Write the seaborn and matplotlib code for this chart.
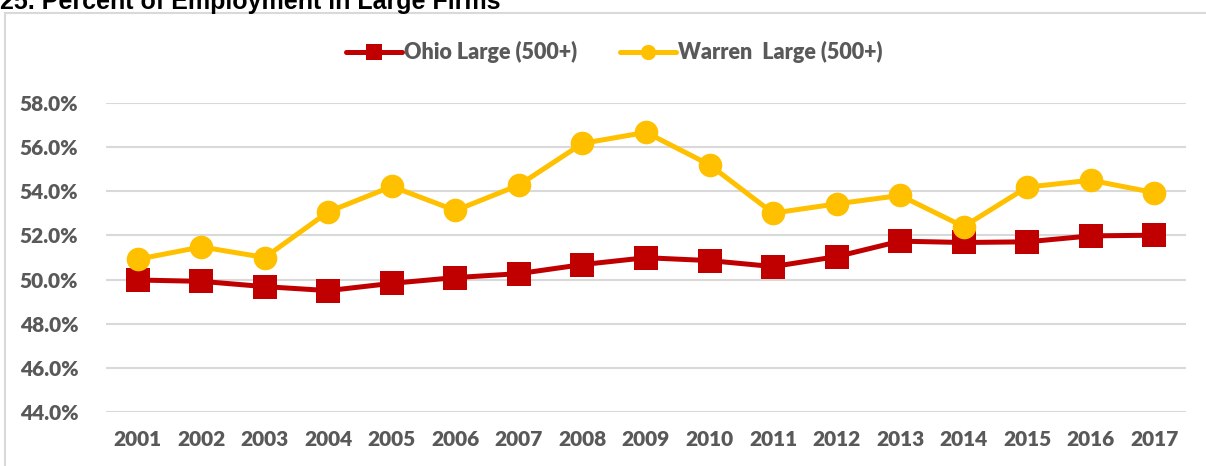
import pandas as pd
import seaborn as sns
import matplotlib.pyplot as plt
from matplotlib.patches import Rectangle
from matplotlib.ticker import FuncFormatter

years = [str(y) for y in range(2001, 2018)]
ohio = [49.98, 49.92, 49.68, 49.50, 49.83, 50.09, 50.27, 50.68, 50.99,
        50.86, 50.59, 51.04, 51.74, 51.68, 51.71, 51.98, 52.01]
warren = [50.92, 51.48, 51.00, 53.07, 54.22, 53.13, 54.28, 56.17, 56.67,
          55.20, 53.01, 53.43, 53.81, 52.40, 54.19, 54.50, 53.94]

df = pd.DataFrame({"Year": years * 2,
                   "Share": ohio + warren,
                   "Series": ["Ohio Large (500+)"] * len(years) + ["Warren  Large (500+)"] * len(years)})

sns.set_style("white")
plt.rcParams['font.family'] = ['Lato', 'DejaVu Sans']
plt.rcParams['font.weight'] = 'heavy'

grey = "#595959"
fig = plt.figure(figsize=(12.06, 4.66), dpi=100)
ax = fig.add_axes([106 / 1206, 1 - 412 / 466, 1080 / 1206, 309 / 466])

sns.lineplot(data=df, x="Year", y="Share", hue="Series", style="Series",
             palette=["#C00000", "#FFC000"], markers=["s", "o"], dashes=False,
             markersize=17, linewidth=3.6, markeredgewidth=0, ax=ax, legend=False)

ax.set_ylim(44, 58)
ax.set_xlim(-0.5, 16.5)
ax.set_yticks(range(44, 59, 2))
ax.yaxis.set_major_formatter(FuncFormatter(lambda v, p: f"{v:.1f}%"))
ax.grid(axis="y", color="#D9D9D9", linewidth=1.5)
ax.set_axisbelow(True)
for s in ax.spines.values():
    s.set_visible(False)
ax.tick_params(axis="both", length=0, labelsize=15, colors=grey, pad=13)
ax.tick_params(axis="y", pad=20)
ax.set_xlabel("")
ax.set_ylabel("")
for ln in ax.lines:
    ln.set_clip_on(False)

handles = [plt.Line2D([], [], color="#C00000", marker="s", markersize=11.5, linewidth=3.6, markeredgewidth=0),
           plt.Line2D([], [], color="#FFC000", marker="o", markersize=11, linewidth=3.6, markeredgewidth=0)]
fig.legend(handles, ["Ohio Large (500+)", "Warren  Large (500+)"], loc="center",
           bbox_to_anchor=(614 / 1206, 1 - 52 / 466), ncol=2, frameon=False, fontsize=15.5,
           labelcolor=grey, handlelength=2.6, handletextpad=0.1, columnspacing=2.0)

fig.patches.append(Rectangle((5 / 1206, -0.05), 1.1, 1 - 13 / 466 + 0.05, transform=fig.transFigure,
                             fill=False, edgecolor="#D9D9D9", linewidth=1.5))
# title is cut off at the top edge, as in the source image
fig.text(0.0, 1 - 9 / 466, "25. Percent of Employment in Large Firms", fontsize=18, fontweight="heavy",
         color="black", ha="left", va="baseline", family=["Liberation Sans", "DejaVu Sans"])

fig.savefig("out.png", dpi=100)
